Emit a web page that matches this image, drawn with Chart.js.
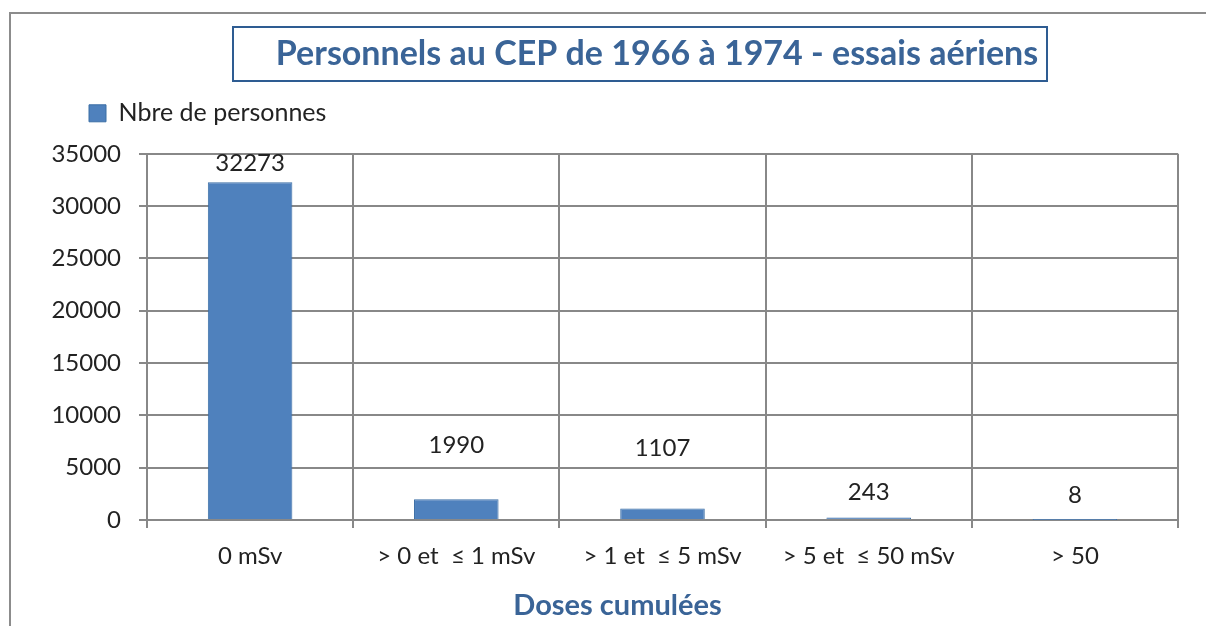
<!DOCTYPE html>
<html>
<head>
<meta charset="utf-8">
<script src="https://cdn.jsdelivr.net/npm/chart.js@4.4.0/dist/chart.umd.min.js"></script>
<style>
  html, body { margin: 0; padding: 0; background: #ffffff; }
  #wrap { width: 1206px; height: 626px; position: relative; }
</style>
</head>
<body>
<div id="wrap"><canvas id="c" width="1206" height="626"></canvas></div>
<script>
// ---- data ----
const categories = ['0 mSv', '> 0 et  \u2264 1 mSv', '> 1 et  \u2264 5 mSv', '> 5 et  \u2264 50 mSv', '> 50'];
const seriesName = 'Nbre de personnes';
const personnes = [32273, 1990, 1107, 243, 8];
const yMin = 0;
const yMax = 35000;
const yStep = 5000;
const chartTitle = 'Personnels au CEP de 1966 \u00e0 1974 - essais a\u00e9riens';
const xAxisTitle = 'Doses cumul\u00e9es';

// ---- style ----
const FONT = 'Lato, "Open Sans", sans-serif';
const BLUE_TEXT = '#3a6497';
const GRID = '#888888';
const TEXT = '#222222';
const labelLift = [19, 54, 60, 25, 25];   // value label offset above bar top (px)
const TITLE_SHIFT = 68;
const LEGEND_SHIFT = 79;
const XTITLE_SHIFT = -45;
const SPACER_HEIGHT = 18;

const frameAndSpacer = {
  id: 'frameAndSpacer',
  beforeInit(chart) {
    const box = {
      position: 'top', weight: 500, fullSize: true,
      options: { stackWeight: 1 },
      left: 0, top: 0, right: 0, bottom: 0, width: 0, height: 0,
      isHorizontal() { return true; },
      update(maxWidth) { this.width = maxWidth; this.height = SPACER_HEIGHT; },
      draw() {}
    };
    Chart.layouts.addBox(chart, box);
  },
  afterLayout(chart) {
    const t = chart.titleBlock;
    if (t) { t.left += TITLE_SHIFT; t.right += TITLE_SHIFT; }
    const lg = chart.legend;
    if (lg) { lg.left += LEGEND_SHIFT; lg.right += LEGEND_SHIFT; }
    const xs = chart.scales.x;
    if (xs && !xs._shiftPatched) {
      xs._shiftPatched = true;
      const orig = xs.drawTitle;
      xs.drawTitle = function () {
        this.left += XTITLE_SHIFT; this.right += XTITLE_SHIFT;
        orig.call(this);
        this.left -= XTITLE_SHIFT; this.right -= XTITLE_SHIFT;
      };
    }
  },
  beforeDraw(chart) {
    const ctx = chart.ctx;
    ctx.save();
    ctx.strokeStyle = '#8c8c8c';
    ctx.lineWidth = 2;
    ctx.beginPath();
    ctx.moveTo(10, chart.height);
    ctx.lineTo(10, 13);
    ctx.lineTo(chart.width, 13);
    ctx.stroke();
    ctx.restore();
  },
  afterDraw(chart) {
    const ctx = chart.ctx;
    const t = chart.titleBlock;
    const o = chart.options.plugins.title;
    const f = Chart.helpers.toFont(o.font);
    ctx.save();
    ctx.font = f.string;
    const w = ctx.measureText(chartTitle).width;
    const cx = (t.left + t.right) / 2;
    const cy = t.top + o.padding.top + f.lineHeight / 2;
    ctx.strokeStyle = '#2e5c92';
    ctx.lineWidth = 2;
    ctx.strokeRect(Math.round(cx - w / 2 - 43), Math.round(cy - 27), Math.round(w + 52), 54);
    // value labels
    const meta = chart.getDatasetMeta(0);
    ctx.font = '24px ' + FONT;
    ctx.fillStyle = TEXT;
    ctx.textAlign = 'center';
    ctx.textBaseline = 'middle';
    meta.data.forEach((el, i) => {
      ctx.fillText(String(personnes[i]), el.x, el.y - labelLift[i]);
    });
    ctx.restore();
  }
};

new Chart(document.getElementById('c'), {
  type: 'bar',
  data: {
    labels: categories,
    datasets: [{
      label: seriesName,
      data: personnes,
      backgroundColor: '#4f81bd',
      borderColor: '#3b6ea5',
      borderWidth: 1,
      categoryPercentage: 1.0,
      barPercentage: 0.41
    }]
  },
  options: {
    responsive: false,
    devicePixelRatio: 1,
    animation: false,
    layout: { padding: { left: 0, right: 28, top: 0, bottom: 0 } },
    plugins: {
      title: {
        display: true,
        text: chartTitle,
        color: BLUE_TEXT,
        font: { family: FONT, size: 34, weight: 'bold', lineHeight: 1.2 },
        padding: { top: 34, bottom: 16 }
      },
      legend: {
        display: true,
        position: 'top',
        align: 'start',
        labels: {
          color: TEXT,
          font: { family: FONT, size: 25 },
          boxWidth: 17,
          boxHeight: 17,
          padding: 10
        }
      },
      tooltip: { enabled: false }
    },
    scales: {
      x: {
        grid: { color: GRID, lineWidth: 2, tickLength: 8, offset: true },
        border: { color: GRID, width: 2 },
        ticks: { color: TEXT, font: { family: FONT, size: 24 }, padding: 14, maxRotation: 0, autoSkip: false },
        title: {
          display: true,
          text: xAxisTitle,
          color: BLUE_TEXT,
          font: { family: FONT, size: 29, weight: 'bold', lineHeight: 1.2 },
          padding: { top: 3, bottom: 3 }
        },
        afterFit(s) { s.height = 106; }
      },
      y: {
        min: yMin,
        max: yMax,
        grid: { color: GRID, lineWidth: 2, tickLength: 8 },
        border: { color: GRID, width: 2 },
        ticks: {
          stepSize: yStep, color: TEXT, font: { family: FONT, size: 24 }, padding: 18,
          callback: (v) => String(v)
        },
        afterFit(s) { s.width = 147; }
      }
    }
  },
  plugins: [frameAndSpacer]
});
</script>
</body>
</html>
